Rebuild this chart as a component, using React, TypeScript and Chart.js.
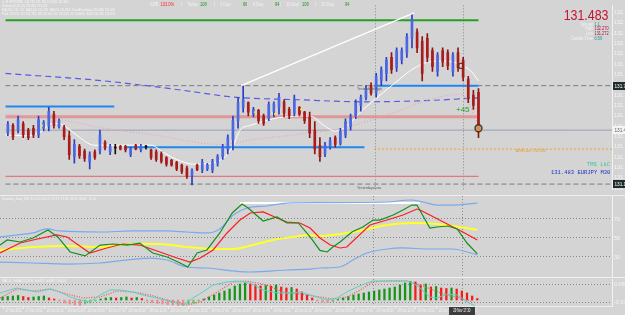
import { useEffect, useRef } from "react";
import { Chart, registerables } from "chart.js";

Chart.register(...registerables);
Chart.defaults.font.family = "Liberation Sans";

// ---------- EURJPY M30 bars, oldest first ----------
const opens = [
  131.464, 131.515, 131.483, 131.528, 131.483, 131.496, 131.451, 131.496, 131.509, 131.592,
  131.509, 131.502, 131.445, 131.304, 131.374, 131.342, 131.266, 131.336, 131.342, 131.400,
  131.336, 131.362, 131.374, 131.374, 131.317, 131.381, 131.349, 131.368, 131.349, 131.336,
  131.323, 131.298, 131.278, 131.266, 131.246, 131.227, 131.176, 131.246, 131.214, 131.221,
  131.214, 131.259, 131.304, 131.355, 131.419, 131.547, 131.637, 131.669, 131.592, 131.618,
  131.579, 131.560, 131.611, 131.637, 131.675, 131.624, 131.598, 131.637, 131.605, 131.573,
  131.483, 131.381, 131.323, 131.368, 131.432, 131.394, 131.451, 131.509, 131.579, 131.650,
  131.701, 131.784, 131.733, 131.816, 131.867, 131.976, 131.906, 131.957, 132.008, 132.104,
  132.149, 132.085, 132.104, 132.021, 131.880, 132.021, 132.008, 131.880, 132.008, 131.957,
  131.829, 131.720, 131.739,
];
const highs = [
  131.541, 131.528, 131.579, 131.541, 131.496, 131.515, 131.579, 131.547, 131.637, 131.611,
  131.560, 131.515, 131.477, 131.419, 131.387, 131.355, 131.336, 131.349, 131.483, 131.413,
  131.387, 131.387, 131.381, 131.381, 131.368, 131.387, 131.387, 131.381, 131.355, 131.349,
  131.336, 131.304, 131.285, 131.272, 131.253, 131.240, 131.221, 131.253, 131.285, 131.259,
  131.285, 131.317, 131.387, 131.451, 131.579, 131.701, 131.784, 131.675, 131.637, 131.624,
  131.592, 131.675, 131.675, 131.733, 131.688, 131.637, 131.720, 131.643, 131.611, 131.605,
  131.541, 131.432, 131.400, 131.432, 131.445, 131.496, 131.560, 131.592, 131.688, 131.720,
  131.784, 131.803, 131.867, 131.912, 131.976, 132.008, 132.040, 132.040, 132.136, 132.270,
  132.168, 132.117, 132.136, 132.040, 132.008, 132.040, 132.027, 132.008, 132.040, 131.976,
  131.848, 131.752, 131.765,
];
const lows = [
  131.445, 131.419, 131.464, 131.432, 131.419, 131.432, 131.432, 131.477, 131.477, 131.496,
  131.496, 131.419, 131.285, 131.259, 131.291, 131.272, 131.221, 131.285, 131.323, 131.349,
  131.317, 131.323, 131.349, 131.336, 131.304, 131.349, 131.336, 131.355, 131.285, 131.272,
  131.259, 131.240, 131.240, 131.208, 131.189, 131.157, 131.112, 131.208, 131.195, 131.208,
  131.195, 131.240, 131.285, 131.323, 131.349, 131.496, 131.605, 131.579, 131.573, 131.528,
  131.515, 131.547, 131.573, 131.592, 131.573, 131.560, 131.579, 131.579, 131.528, 131.432,
  131.323, 131.272, 131.304, 131.355, 131.368, 131.381, 131.432, 131.483, 131.560, 131.611,
  131.688, 131.720, 131.707, 131.784, 131.816, 131.867, 131.880, 131.931, 131.976, 132.040,
  132.008, 131.816, 131.944, 131.880, 131.848, 131.912, 131.893, 131.848, 131.880, 131.816,
  131.669, 131.624, 131.432,
];
const closes = [
  131.522, 131.438, 131.554, 131.451, 131.432, 131.451, 131.554, 131.534, 131.611, 131.515,
  131.547, 131.438, 131.317, 131.387, 131.310, 131.291, 131.317, 131.298, 131.451, 131.362,
  131.374, 131.362, 131.355, 131.349, 131.355, 131.355, 131.374, 131.368, 131.298, 131.285,
  131.272, 131.253, 131.246, 131.221, 131.202, 131.170, 131.208, 131.214, 131.266, 131.246,
  131.272, 131.304, 131.368, 131.432, 131.547, 131.669, 131.688, 131.605, 131.624, 131.547,
  131.528, 131.656, 131.662, 131.707, 131.598, 131.579, 131.694, 131.592, 131.547, 131.464,
  131.355, 131.304, 131.381, 131.413, 131.387, 131.477, 131.541, 131.573, 131.669, 131.707,
  131.765, 131.733, 131.848, 131.893, 131.957, 131.893, 132.021, 132.021, 132.117, 132.232,
  132.040, 131.867, 131.976, 131.912, 131.989, 131.944, 131.918, 131.989, 131.906, 131.842,
  131.701, 131.650, 131.483,
];
const dayStartBar = 54;

// moving averages: [bar, price]
type Pair = [number, number];
const fastMa: Pair[] = [
  [-0.5, 131.451], [3.4, 131.445], [6.7, 131.477], [7.8, 131.515], [9.8, 131.528], [11.7, 131.496],
  [13.6, 131.445], [16.9, 131.381], [20.8, 131.381], [28, 131.381], [30.5, 131.33], [33, 131.285],
  [36.3, 131.253], [39.6, 131.259], [42.5, 131.304], [44.1, 131.381], [45.4, 131.483], [47.4, 131.515],
  [49.9, 131.541], [51.8, 131.56], [54.3, 131.573], [57.6, 131.579], [59.6, 131.573], [61.5, 131.522],
  [64, 131.477], [66.4, 131.515], [68.9, 131.605], [71.2, 131.675], [75.7, 131.803], [79, 131.893],
  [82.3, 131.944], [85.7, 131.95], [88.6, 131.925], [90.6, 131.88], [92, 131.816],
];
const midMa: Pair[] = [
  [-0.5, 131.592], [9.2, 131.56], [18.9, 131.496], [28.6, 131.451], [38.3, 131.394], [41.6, 131.387],
  [48, 131.419], [57.6, 131.458], [65.4, 131.496], [75.7, 131.605], [82.3, 131.688], [88.6, 131.726],
  [90.6, 131.624], [92, 131.515],
];
const slowMa: Pair[] = [
  [-0.5, 131.867], [18.9, 131.816], [34.4, 131.752], [44.1, 131.707], [57.6, 131.688],
  [69.3, 131.675], [80.9, 131.682], [92, 131.701],
];
const trendLine: Pair[] = [[45.6, 131.784], [79.4, 132.277]];

// levels
const yesterdayHigh = 131.784;
const yesterdayLow = 131.118;
const adrHigh = 132.226;
const adrLow = 131.355;
const pivotLevel = 131.573;
const supportLevel = 131.17;
const zoneStart = [-0.5, 22.8, 71.6];
const zoneEnd = [20.8, 69.7, 92];
const zonePrice = [131.643, 131.368, 131.784];
const priceTicks = [
  131.09, 131.16, 131.23, 131.3, 131.37, 131.44, 131.51, 131.58, 131.65, 131.72, 131.79,
  131.86, 131.93, 132.0, 132.07, 132.14, 132.21, 132.28,
];
const tradeMarks: Pair[] = [[88.6, 131.918], [92, 131.496]];
const signalDots: Pair[] = [[6.7, 131.515], [48.3, 131.605], [52.2, 131.592], [57.3, 131.624]];
const tradePips = "+45";

// ADR panel
const adrPercent = "103.0%";
const adrPeriods = ["Today:", "1 Day:", "5 Day:", "10 Day:", "20 Day:"];
const adrPips = [108, 66, 94, 108, 94];
const spread = "1.1";
const candleTime = "6:59";

// Dynamic zone RSI pane
const rsiFast: Pair[] = [
  [-0.5, 42.6], [0.9, 47.9], [3.4, 45.8], [5.9, 50], [8.8, 58.4], [10.7, 51.1], [13.1, 35.3], [16, 31.1],
  [18.9, 42.6], [21.4, 43.7], [24.1, 42.6], [26.6, 44.7], [29.1, 34.2], [31.9, 30], [34.4, 23.7],
  [35.9, 19.5], [37.7, 34.2], [39.6, 37.4], [42.1, 55.3], [44.5, 76.3], [46.4, 85.8], [47.6, 81.6],
  [50.5, 67.9], [53.2, 72.1], [55.1, 65.8], [57.3, 65.8], [59.6, 51.1], [61.5, 37], [62.9, 35.3],
  [64, 40.5], [65.4, 45.8], [67.7, 56.3], [69.8, 61.6], [71.8, 68.9], [73.1, 68.9], [75.7, 74.2],
  [77.6, 79.5], [79.3, 84.7], [80.3, 84.7], [82.8, 60.5], [84.2, 61.6], [86.3, 62.6], [88.1, 59.5],
  [90, 44.7], [92, 33.2],
];
const rsiSlow: Pair[] = [
  [-0.5, 34.2], [3.4, 44.7], [5.9, 47.9], [10.5, 53.2], [12.5, 51.1], [16.9, 34.2], [20.2, 39.5],
  [23.3, 43.7], [26.6, 42.6], [30.5, 35.3], [33.8, 28.9], [36.3, 24.7], [38.3, 28.9], [40.8, 37.4],
  [43.5, 55.3], [46, 68.9], [48, 76.3], [50.5, 77.4], [53.2, 71.1], [55.1, 66.8], [57.6, 65.8],
  [59.6, 60.5], [61.5, 50], [63.5, 42.6], [65.4, 39.5], [66.7, 40.5], [71.2, 63.7], [74.5, 68.9],
  [77.6, 74.2], [80.3, 80.5], [80.9, 79.5], [82.8, 74.2], [87.3, 61.6], [89.2, 56.3], [92, 47.9],
];
const rsiMid: Pair[] = [
  [-0.5, 37.4], [5.9, 40.5], [12.5, 41.6], [18.9, 40.5], [25.3, 43.7], [30.5, 43.7], [35.7, 40.5],
  [40.8, 38.4], [44.7, 38.4], [48.5, 42.6], [52.4, 47.9], [56.3, 51.1], [59.6, 53.2], [61.5, 52.1],
  [67.9, 56.3], [74.5, 63.7], [79.5, 65.8], [84.2, 64.7], [88.6, 61.6], [92, 58.4],
];
const zoneUpper: Pair[] = [
  [-0.5, 51.1], [2.8, 53.2], [5.9, 55.3], [8.6, 59.5], [11.1, 57.4], [18.9, 56.3], [25.3, 57.4],
  [31.9, 57.4], [35.7, 56.3], [39.6, 55.3], [42.1, 59.5], [44.7, 74.2], [47.4, 81.6], [51.2, 83.7],
  [55.1, 86.8], [61.5, 87.2], [74.5, 87.9], [79, 90], [81.5, 87.9], [84.2, 84.7], [87.3, 84.7], [92, 86.8],
];
const zoneLower: Pair[] = [
  [-0.5, 24.7], [5.9, 23.7], [12.5, 22.6], [18.9, 23.7], [28.6, 28.9], [31.9, 26.8], [35.7, 19.5],
  [39.6, 18.4], [44.7, 15.3], [48, 14.2], [55.1, 16.3], [60.1, 17.4], [61.5, 18.4], [65.4, 19.5],
  [67.9, 26.8], [70.6, 34.2], [74.5, 38.4], [77.6, 39.5], [82.8, 38.4], [87.3, 38.4], [90, 35.3], [92, 32.1],
];
const zoneCap: Pair[] = [[46, 86.8], [80.9, 86.8]];
const rsiLevels = [30, 50, 70];

// MACD pane
const macdHist = [
  0.015, 0.0175, 0.02, 0.0225, 0.0175, 0.0125, 0.015, 0.0175, 0.02, 0.01,
  0.005, -0.005, -0.015, -0.02, -0.025, -0.0275, -0.02, -0.015, -0.005, 0.005,
  0.01, 0.0125, 0.01, 0.0125, 0.015, 0.01, 0.0125, 0.0075, -0.005, -0.0125,
  -0.0175, -0.02, -0.0225, -0.025, -0.0275, -0.03, -0.02, -0.015, -0.005, 0.005,
  0.015, 0.025, 0.035, 0.045, 0.055, 0.07, 0.08, 0.085, 0.08, 0.075,
  0.07, 0.0725, 0.07, 0.075, 0.065, 0.06, 0.0625, 0.055, 0.04, 0.025,
  0.01, -0.005, -0.01, -0.0125, -0.0075, 0.0025, 0.01, 0.0175, 0.025, 0.03,
  0.035, 0.04, 0.045, 0.05, 0.055, 0.06, 0.065, 0.075, 0.085, 0.0925,
  0.09, 0.075, 0.08, 0.065, 0.0675, 0.06, 0.0575, 0.06, 0.055, 0.045,
  0.035, 0.02, 0.0075,
];
const macdMain: Pair[] = [
  [-0.5, 0.035], [1.4, 0.05], [2.8, 0.06], [4.7, 0.05], [6.7, 0.04], [9.2, 0.055], [11.1, 0.04],
  [13.1, 0.015], [15, 0], [16.9, -0.01], [18.9, 0.025], [20.8, 0.05], [22.8, 0.05], [25.3, 0.04],
  [27.2, 0.025], [29.9, 0.01], [33, -0.01], [35, -0.025], [36.9, 0.01], [38.8, 0.04], [40.8, 0.075],
  [43.5, 0.09], [45.4, 0.095], [48, 0.085], [50.5, 0.05], [53.2, 0.035], [55.7, 0.035], [57.6, 0.04],
  [59.6, 0.025], [61.5, 0.01], [62.9, 0], [64.8, 0.01], [66.7, 0.04], [68.7, 0.065], [70.6, 0.085],
  [71.8, 0.095], [74.5, 0.095], [78.4, 0.095], [79.5, 0.085], [80.9, 0.06], [82.8, 0.015],
  [84.2, 0.01], [86.1, 0.03], [88.1, 0.025], [90, -0.01], [91.6, -0.03],
];
const macdSignal: Pair[] = [
  [-0.5, 0.01], [2.8, 0.055], [5.9, 0.045], [9.2, 0.055], [12.5, 0.03], [15.6, 0.01], [18.9, 0.015],
  [22.2, 0.045], [25.3, 0.04], [28.6, 0.025], [31.9, 0], [35.7, -0.025], [38.3, -0.01], [41.6, 0.04],
  [44.7, 0.09], [47.4, 0.095], [51.2, 0.075], [54.3, 0.04], [57.6, 0.03], [61.5, 0.015], [64, 0.005],
  [66.7, 0.015], [69.3, 0.05], [71.8, 0.09], [74.5, 0.095], [78.4, 0.095], [80.9, 0.075],
  [83.4, 0.05], [86.1, 0.025], [88.6, 0.01], [91.2, -0.01],
];
const macdLevels = [-0.01, 0.08];

// time axis
const timeTickBars = [0, 4, 8, 12, 16, 20, 24, 28, 32, 36, 40, 44, 48, 52, 56, 60, 64, 68, 72, 76, 80, 84, 88];
const timeLabels = [
  "27 Nov 2013", "27 Nov 23:00", "28 Nov 01:00", "28 Nov 03:00", "28 Nov 05:00", "28 Nov 07:00",
  "28 Nov 09:00", "28 Nov 11:00", "28 Nov 13:00", "28 Nov 15:00", "28 Nov 17:00", "28 Nov 19:00",
  "28 Nov 21:00", "28 Nov 23:00", "29 Nov 01:00", "29 Nov 03:00", "29 Nov 05:00", "29 Nov 07:00",
  "29 Nov 09:00", "29 Nov 11:00", "29 Nov 13:00", "29 Nov 15:00", "29 Nov 17:00",
];
const markerBars = [71.75, 89];
const crosshairBar = 89;
const crosshairTime = "29 Nov 17:30";

// ---------- drawing helpers ----------
const BG = "#d4d4d4";
const AXIS_TEXT = "#f4f4f4";
const HUD_LABEL = "#f2f2f2";
const AXIS_W = 13;
const X_MIN = -0.5;
const X_MAX = 118.1;

const pts = (p: Pair[]) => p.map(([x, y]) => ({ x, y }));

function drawText(
  ctx: CanvasRenderingContext2D,
  text: string,
  x: number,
  y: number,
  size: number,
  color: string,
  opts: { sx?: number; align?: CanvasTextAlign; family?: string; weight?: string } = {}
) {
  const { sx = 1, align = "left", family = "Liberation Sans", weight = "normal" } = opts;
  ctx.save();
  ctx.translate(x, y);
  ctx.scale(sx, 1);
  ctx.font = `${weight} ${size}px "${family}"`;
  ctx.fillStyle = color;
  ctx.textAlign = align;
  ctx.textBaseline = "middle";
  ctx.fillText(text, 0, 0);
  ctx.restore();
}

function xAxis() {
  return { type: "linear", min: X_MIN, max: X_MAX, offset: false, display: false, grid: { display: false, offset: false } };
}

function rightAxis(min: number, max: number, ticks: number[], fmt: (v: number) => string, dotted: boolean) {
  return {
    type: "linear",
    position: "right",
    min,
    max,
    afterFit(s: any) {
      s.width = AXIS_W;
      s.paddingTop = 0;
      s.paddingBottom = 0;
    },
    afterBuildTicks(s: any) {
      s.ticks = ticks.map((v) => ({ value: v }));
    },
    ticks: { color: AXIS_TEXT, font: { size: 5.5 }, padding: 2, autoSkip: false, callback: (v: any) => fmt(Number(v)) },
    grid: dotted ? { display: true, drawTicks: false, color: "#8a8a8a", lineWidth: 1 } : { display: false, drawTicks: false },
    border: { display: true, color: "#f2f2f2", width: 1, dash: dotted ? [1, 2] : [] },
  };
}

function line(data: any[], color: string, width: number, order: number, extra: any = {}) {
  return { type: "line", data, borderColor: color, borderWidth: width, pointRadius: 0, fill: false, order, ...extra };
}

const span = (y: number, x0: number, x1: number) => [{ x: x0, y }, { x: x1, y }];

const baseOptions = {
  responsive: false,
  animation: false,
  devicePixelRatio: 1,
  events: [],
  plugins: { legend: { display: false }, tooltip: { enabled: false } },
};

const markerLines = {
  id: "markerLines",
  beforeDatasetsDraw(chart: any) {
    const { ctx, chartArea } = chart;
    const xs = chart.scales.x;
    ctx.save();
    ctx.strokeStyle = "#8a8a8a";
    ctx.lineWidth = 1;
    ctx.setLineDash([1, 2]);
    markerBars.forEach((b) => {
      const x = Math.round(xs.getPixelForValue(b)) + 0.5;
      ctx.beginPath();
      ctx.moveTo(x, chartArea.top);
      ctx.lineTo(x, chartArea.bottom);
      ctx.stroke();
    });
    ctx.restore();
  },
};

function axisBox(ctx: CanvasRenderingContext2D, chart: any, value: number, bg: string, fg: string) {
  const y = chart.scales.y.getPixelForValue(value);
  const left = chart.chartArea.right + 1;
  ctx.fillStyle = bg;
  ctx.fillRect(left, Math.round(y) - 4, chart.width - left, 8);
  drawText(ctx, value.toFixed(3), left + 1.5, Math.round(y), 5.5, fg, { sx: 0.85 });
}

// ---------- main price pane ----------
function mainChart(canvas: HTMLCanvasElement) {
  const last = closes.length - 1;
  const bid = closes[last];
  const dayHigh = Math.max(...highs.slice(dayStartBar));
  const dayLow = Math.min(...lows.slice(dayStartBar));
  const bull = (i: number) => closes[i] > opens[i];
  const bear = (i: number) => closes[i] < opens[i];
  const wickColor = (i: number) => (bull(i) ? "#2b3cc2" : bear(i) ? "#8e1414" : "#111111");
  const bodyColor = (i: number) => (bull(i) ? "#4a68e2" : bear(i) ? "#a81c1c" : "#111111");

  const datasets: any[] = [
    {
      type: "scatter",
      data: [pts(tradeMarks)[1]],
      pointRadius: 3.5,
      pointBackgroundColor: "#d8924c",
      pointBorderColor: "#3a3434",
      pointBorderWidth: 1.3,
      order: 0,
    },
    {
      type: "scatter",
      data: [pts(tradeMarks)[0]],
      pointRadius: 2.6,
      pointBackgroundColor: "rgba(0,0,0,0)",
      pointBorderColor: "#7a2a12",
      pointBorderWidth: 1.2,
      order: 0,
    },
    { type: "scatter", data: pts(signalDots), pointRadius: 1, pointBackgroundColor: "#ffee00", pointBorderWidth: 0, order: 1 },
    line(pts(trendLine), "#ffffff", 1.4, 2),
    {
      type: "bar",
      data: opens.map((o, i) => ({ x: i, y: [o, closes[i]] })),
      backgroundColor: (c: any) => bodyColor(c.dataIndex),
      barThickness: 2,
      minBarLength: 1,
      grouped: false,
      borderWidth: 0,
      order: 10,
    },
    {
      type: "bar",
      data: highs.map((h, i) => ({ x: i, y: [lows[i], h] })),
      backgroundColor: (c: any) => wickColor(c.dataIndex),
      barThickness: 1,
      grouped: false,
      borderWidth: 0,
      order: 11,
    },
    line(pts(fastMa), "#ffffff", 1, 20, { cubicInterpolationMode: "monotone" }),
    line(pts(midMa), "#eea2b8", 1.2, 21, { borderDash: [1, 2], cubicInterpolationMode: "monotone" }),
    line(pts(slowMa), "#5a5ae4", 1.2, 22, { borderDash: [6, 4], cubicInterpolationMode: "monotone" }),
    line(span(adrHigh, X_MIN, 92), "#23a023", 2, 30),
    line(span(adrLow, 71.6, X_MAX), "#f0a024", 1, 30, { borderDash: [2, 2] }),
    ...zonePrice.map((p, k) => line(span(p, zoneStart[k], zoneEnd[k]), "#1e88f0", 2, 31)),
    line(span(pivotLevel, X_MIN, 92), "rgba(226,140,140,0.85)", 3, 32),
    line(span(supportLevel, X_MIN, 92), "#df7a7a", 1.2, 32),
    line(span(bid, X_MIN, X_MAX), "#9ca0b2", 1, 33),
    line(span(yesterdayHigh, X_MIN, X_MAX), "#7a7a7a", 1, 34, { borderDash: [5, 3] }),
    line(span(yesterdayLow, X_MIN, X_MAX), "#7a7a7a", 1, 34, { borderDash: [5, 3] }),
  ];

  const overlay = {
    id: "mainOverlay",
    afterDraw(chart: any) {
      const { ctx } = chart;
      const xs = chart.scales.x;
      const ys = chart.scales.y;
      ctx.save();

      // chart header lines
      const header = [
        `\u25BC EURJPY,M30  ${opens[last].toFixed(3)} ${highs[last].toFixed(3)} ${lows[last].toFixed(3)} ${bid.toFixed(3)}`,
        "Ichimoku(9,26,52) 131.802 131.526",
        "MA(200) 131.701  MA(100) 131.726  MA(21) 131.816  TrendEnvelopes 131.880 131.420",
        "Pivot 131.452  R1 131.786  R2 132.090  S1 131.148  S2 130.814  ADR 131.355 132.373",
      ];
      header.forEach((t, k) => drawText(ctx, t, 2, 2.2 + k * 3.9, 3.6, "#f6f6f6", { sx: 0.8 }));

      // ADR statistics strip
      const ay = 4.6;
      drawText(ctx, "ADR:", 150, ay, 5, HUD_LABEL, { sx: 0.8 });
      drawText(ctx, adrPercent, 160.5, ay, 5, "#ff2424", { sx: 0.8 });
      const labelX = [187, 220, 253, 286, 321];
      const valueX = [200, 243, 275, 302, 345];
      adrPeriods.forEach((p, k) => {
        drawText(ctx, "|", labelX[k] - 6, ay, 5, HUD_LABEL, { sx: 0.8 });
        drawText(ctx, p, labelX[k], ay, 5, HUD_LABEL, { sx: 0.8 });
        drawText(ctx, String(adrPips[k]), valueX[k], ay, 5, "#139a13", { sx: 0.8 });
      });

      // price panel
      drawText(ctx, bid.toFixed(3), 608.5, 15.8, 15.5, "#c4142e", { sx: 0.8, align: "right" });
      const rows: [string, string, string][] = [
        ["Spread", spread, "#1a9a9a"],
        ["High", dayHigh.toFixed(3), "#b0103c"],
        ["Low", dayLow.toFixed(3), "#b0103c"],
        ["Candle Time", candleTime, "#1a9a9a"],
      ];
      rows.forEach(([l, v, c], k) => {
        const y = 24.3 + k * 4.7;
        drawText(ctx, l, 593, y, 4.6, HUD_LABEL, { sx: 0.85, align: "right" });
        drawText(ctx, v, 594.5, y, 4.6, c, { sx: 0.85 });
      });

      // level captions
      const yh = ys.getPixelForValue(yesterdayHigh);
      const yl = ys.getPixelForValue(yesterdayLow);
      drawText(ctx, "YesterdaysHigh", 357, yh + 3.5, 4.2, "#5a5a5a", { sx: 0.85 });
      drawText(ctx, "YesterdaysLow", 357, yl + 3.5, 4.2, "#5a5a5a", { sx: 0.85 });
      drawText(ctx, `ADR Low: ${adrLow.toFixed(3)}`, xs.getPixelForValue(99.3), ys.getPixelForValue(adrLow) + 2, 4.2, "#e89a24", { sx: 0.85 });

      // open trade result
      drawText(ctx, tradePips, xs.getPixelForValue(87.6), ys.getPixelForValue(131.621), 8, "#2c9c2c");

      // corner labels
      drawText(ctx, "TMS LkC", 587, 165, 5.5, "#3cc49a", { family: "Liberation Mono" });
      drawText(ctx, `${bid.toFixed(3)} EURJPY M30`, 551, 172.8, 5.5, "#2232c4", { family: "Liberation Mono" });

      // highlighted axis prices
      axisBox(ctx, chart, yesterdayHigh, "#1e2c2c", "#ffffff");
      axisBox(ctx, chart, bid, "#f4f4f4", "#606060");
      axisBox(ctx, chart, yesterdayLow, "#1e2c2c", "#ffffff");
      ctx.restore();
    },
  };

  return new Chart(canvas, {
    type: "line",
    data: { datasets },
    options: {
      ...baseOptions,
      layout: { padding: 0 },
      scales: {
        x: xAxis(),
        y: rightAxis(131.08, 132.328, priceTicks, (v) => v.toFixed(3), false),
      },
    },
    plugins: [markerLines, overlay],
  } as any);
}

// ---------- dynamic zone RSI pane ----------
function rsiChart(canvas: HTMLCanvasElement) {
  const header = {
    id: "rsiHeader",
    afterDraw(chart: any) {
      const { ctx } = chart;
      drawText(ctx, "Dynamic_Zone_RSI (14,20,0.8,0.2)  33.19  47.85  58.35  86.82  32.14", 2, 2.5, 3.8, "#f6f6f6", { sx: 0.8 });
    },
  };
  return new Chart(canvas, {
    type: "line",
    data: {
      datasets: [
        line(pts(rsiFast), "#14901a", 1.2, 1),
        line(pts(rsiSlow), "#ff1c1c", 1.2, 2),
        line(pts(rsiMid), "#ffff2a", 2, 3, { cubicInterpolationMode: "monotone" }),
        line(pts(zoneUpper), "#78aaee", 1.2, 4, { cubicInterpolationMode: "monotone" }),
        line(pts(zoneLower), "#78aaee", 1.2, 4, { cubicInterpolationMode: "monotone" }),
        line(pts(zoneCap), "#ffffff", 2, 5),
      ],
    },
    options: {
      ...baseOptions,
      layout: { padding: 0 },
      scales: {
        x: xAxis(),
        y: rightAxis(8.95, 94.2, rsiLevels, (v) => String(v), true),
      },
    },
    plugins: [markerLines, header],
  } as any);
}

// ---------- MACD pane with time axis ----------
function macdChart(canvas: HTMLCanvasElement) {
  const histColor = (i: number) => {
    const v = macdHist[i];
    const prev = i > 0 ? macdHist[i - 1] : v;
    if (v >= prev) return v >= 0 ? "#17951a" : "#6cc46c";
    return v >= 0 ? "#f21c1c" : "#f08a8a";
  };
  const overlay = {
    id: "macdOverlay",
    afterDraw(chart: any) {
      const { ctx, chartArea } = chart;
      const xs = chart.scales.x;
      ctx.save();
      drawText(ctx, "MACD_OsMA(12,26,9)  0.0075  0.0467  0.0101", 2, 2.6, 3.8, "#f6f6f6", { sx: 0.8 });

      const axisTop = chartArea.bottom;
      ctx.strokeStyle = "#eeeeee";
      ctx.lineWidth = 1;
      ctx.beginPath();
      ctx.moveTo(0, axisTop + 0.5);
      ctx.lineTo(chartArea.right, axisTop + 0.5);
      ctx.stroke();
      timeTickBars.forEach((b, k) => {
        const x = Math.round(xs.getPixelForValue(b)) + 0.5;
        ctx.beginPath();
        ctx.moveTo(x, axisTop);
        ctx.lineTo(x, axisTop + 3);
        ctx.stroke();
        drawText(ctx, timeLabels[k], x + 2, axisTop + 5, 5, AXIS_TEXT, { sx: 0.58 });
      });
      const cx = xs.getPixelForValue(crosshairBar);
      ctx.fillStyle = "#3c3c3c";
      ctx.fillRect(Math.round(cx) - 13, axisTop + 1, 26, chart.height - axisTop - 1);
      drawText(ctx, crosshairTime, cx, axisTop + 5, 5, "#ffffff", { sx: 0.58, align: "center" });
      ctx.restore();
    },
  };
  return new Chart(canvas, {
    type: "line",
    data: {
      datasets: [
        line(pts(macdMain), "#5ccfc4", 1, 1),
        line(pts(macdSignal), "#f25c5c", 1.3, 2, { borderDash: [1, 1.5] }),
        {
          type: "bar",
          data: macdHist.map((v, i) => ({ x: i, y: v })),
          backgroundColor: (c: any) => histColor(c.dataIndex),
          barThickness: 1.6,
          grouped: false,
          borderWidth: 0,
          order: 3,
        },
      ],
    },
    options: {
      ...baseOptions,
      layout: { padding: { top: 1, bottom: 9, left: 0, right: 0 } },
      scales: {
        x: xAxis(),
        y: rightAxis(-0.03, 0.105, macdLevels, (v) => v.toFixed(4), true),
      },
    },
    plugins: [markerLines, overlay],
  } as any);
}

export default function App() {
  const mainRef = useRef<HTMLCanvasElement>(null);
  const rsiRef = useRef<HTMLCanvasElement>(null);
  const macdRef = useRef<HTMLCanvasElement>(null);

  useEffect(() => {
    const charts = [mainChart(mainRef.current!), rsiChart(rsiRef.current!), macdChart(macdRef.current!)];
    return () => charts.forEach((c) => c.destroy());
  }, []);

  const sep = (top: number) => (
    <div style={{ position: "absolute", left: 0, top, width: 625, height: 1, background: "#f0f0f0" }} />
  );

  return (
    <div style={{ position: "fixed", left: 0, top: 0, width: 625, height: 315, background: BG, overflow: "hidden" }}>
      <canvas ref={mainRef} width={625} height={195} style={{ position: "absolute", left: 0, top: 0 }} />
      {sep(195)}
      <canvas ref={rsiRef} width={625} height={81} style={{ position: "absolute", left: 0, top: 196 }} />
      {sep(277)}
      <canvas ref={macdRef} width={625} height={37} style={{ position: "absolute", left: 0, top: 278 }} />
    </div>
  );
}
